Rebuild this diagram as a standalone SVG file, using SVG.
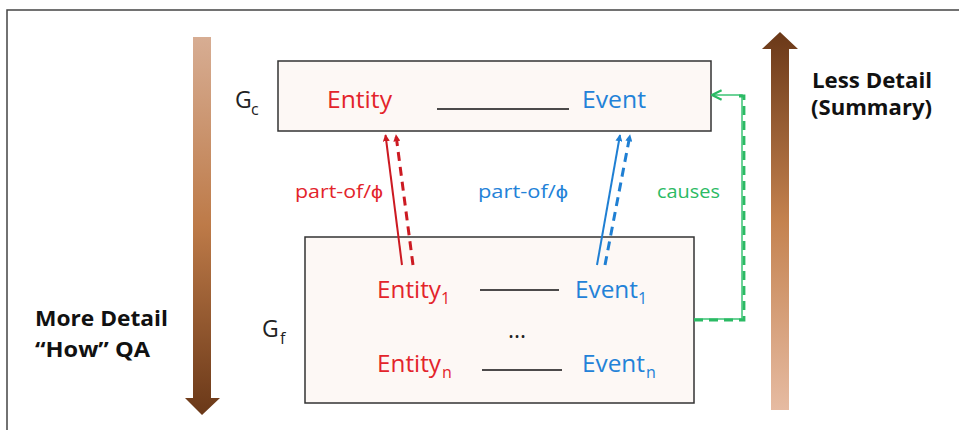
<svg xmlns="http://www.w3.org/2000/svg" width="959" height="430" viewBox="0 0 959 430">
  <style>
    .lbl { font-family: "Open Sans", "Liberation Sans", sans-serif; font-size: 23px; }
    .sub { font-family: "Open Sans", "Liberation Sans", sans-serif; font-size: 16px; }
    .edge { font-family: "Open Sans", "Liberation Sans", sans-serif; font-size: 18px; }
    .bold { font-family: "Open Sans", "Liberation Sans", sans-serif; font-size: 21px; font-weight: bold; fill: #111; }
    .red { fill: #e3242b; }
    .blue { fill: #2382d8; }
    .green { fill: #2bba64; }
    .dark { fill: #222; }
    .box { fill: #fdf8f5; stroke: #333; stroke-width: 1.5; }
    .rel { stroke: #111; stroke-width: 1.6; }
  </style>
  <defs>
    <linearGradient id="gradDown" x1="0" y1="0" x2="0" y2="1">
      <stop offset="0" stop-color="#d7ad93"/>
      <stop offset="0.5" stop-color="#bd7a48"/>
      <stop offset="1" stop-color="#6a3818"/>
    </linearGradient>
    <linearGradient id="gradUp" x1="0" y1="0" x2="0" y2="1">
      <stop offset="0" stop-color="#6a3818"/>
      <stop offset="0.5" stop-color="#c4824f"/>
      <stop offset="1" stop-color="#e6bba2"/>
    </linearGradient>
    <marker id="headRed" viewBox="0 0 10 10" refX="9" refY="5" markerWidth="7" markerHeight="7" markerUnits="userSpaceOnUse" orient="auto">
      <path d="M0,0 L10,5 L0,10 Z" fill="#cc1a22"/>
    </marker>
    <marker id="headBlue" viewBox="0 0 10 10" refX="9" refY="5" markerWidth="7" markerHeight="7" markerUnits="userSpaceOnUse" orient="auto">
      <path d="M0,0 L10,5 L0,10 Z" fill="#1f7fd3"/>
    </marker>
    <marker id="headGreen" viewBox="0 0 10 10" refX="9" refY="5" markerWidth="12" markerHeight="12" markerUnits="userSpaceOnUse" orient="auto">
      <path d="M1,1 L9,5 L1,9" fill="none" stroke="#2bba64" stroke-width="1.8"/>
    </marker>
  </defs>

  <!-- frame -->
  <path d="M7,430 V10 H959" fill="none" stroke="#444" stroke-width="1.5"/>

  <!-- detail-level arrows -->
  <g id="more-detail">
    <polygon points="193,37 211,37 211,398 220,398 202,415 185,398 193,398" fill="url(#gradDown)"/>
    <text class="bold" x="35" y="326" textLength="133" lengthAdjust="spacingAndGlyphs">More Detail</text>
    <text class="bold" x="35" y="357" textLength="115" lengthAdjust="spacingAndGlyphs">“How” QA</text>
  </g>
  <g id="less-detail">
    <polygon points="780,32 798,49 789,49 789,410 771,410 771,49 762,49" fill="url(#gradUp)"/>
    <text class="bold" x="812" y="88" textLength="120" lengthAdjust="spacingAndGlyphs">Less Detail</text>
    <text class="bold" x="811" y="115" textLength="121" lengthAdjust="spacingAndGlyphs">(Summary)</text>
  </g>

  <!-- coarse graph -->
  <g id="gc">
    <rect class="box" x="278" y="61" width="433" height="70"/>
    <text class="lbl dark" x="235" y="108">G</text>
    <text class="sub dark" x="251" y="115">c</text>
    <text class="lbl red" x="327" y="108" textLength="65" lengthAdjust="spacingAndGlyphs">Entity</text>
    <line class="rel" x1="437" y1="109" x2="569" y2="109"/>
    <text class="lbl blue" x="582" y="108" textLength="64" lengthAdjust="spacingAndGlyphs">Event</text>
  </g>

  <!-- fine graph -->
  <g id="gf">
    <rect class="box" x="305" y="237" width="389" height="166"/>
    <text class="lbl dark" x="262" y="337">G</text>
    <text class="sub dark" x="280" y="344">f</text>
    <text class="lbl red" x="377" y="298" textLength="64" lengthAdjust="spacingAndGlyphs">Entity</text>
    <text class="sub red" x="441" y="304">1</text>
    <line class="rel" x1="480" y1="290" x2="559" y2="290"/>
    <text class="lbl blue" x="575" y="298" textLength="63" lengthAdjust="spacingAndGlyphs">Event</text>
    <text class="sub blue" x="638" y="304">1</text>
    <text class="lbl dark" x="508" y="338" font-size="18">...</text>
    <text class="lbl red" x="377" y="372" textLength="64" lengthAdjust="spacingAndGlyphs">Entity</text>
    <text class="sub red" x="442" y="378">n</text>
    <line class="rel" x1="482" y1="370" x2="562" y2="370"/>
    <text class="lbl blue" x="582" y="372" textLength="63" lengthAdjust="spacingAndGlyphs">Event</text>
    <text class="sub blue" x="646" y="378">n</text>
  </g>

  <!-- connectors -->
  <g id="connectors" fill="none">
    <line x1="402" y1="265" x2="385.5" y2="135" stroke="#cc1a22" stroke-width="2" marker-end="url(#headRed)"/>
    <line x1="413" y1="265" x2="396" y2="135" stroke="#cc1a22" stroke-width="3" stroke-dasharray="9,6" marker-end="url(#headRed)"/>
    <line x1="597" y1="265" x2="620" y2="135" stroke="#1f7fd3" stroke-width="2" marker-end="url(#headBlue)"/>
    <line x1="605" y1="265" x2="630" y2="135" stroke="#1f7fd3" stroke-width="3" stroke-dasharray="9,6" marker-end="url(#headBlue)"/>
    <polyline points="694,319 742,319 742,95 712,95" stroke="#3cc476" stroke-width="1.5" marker-end="url(#headGreen)"/>
    <polyline points="694,320 744,320 744,96 738,96" stroke="#2bba64" stroke-width="2.8" stroke-dasharray="9,6"/>
    <text class="edge red" x="295" y="198" textLength="88" lengthAdjust="spacingAndGlyphs">part-of/ϕ</text>
    <text class="edge blue" x="478" y="198" textLength="90" lengthAdjust="spacingAndGlyphs">part-of/ϕ</text>
    <text class="edge green" x="657" y="198" textLength="63" lengthAdjust="spacingAndGlyphs">causes</text>
  </g>
</svg>
